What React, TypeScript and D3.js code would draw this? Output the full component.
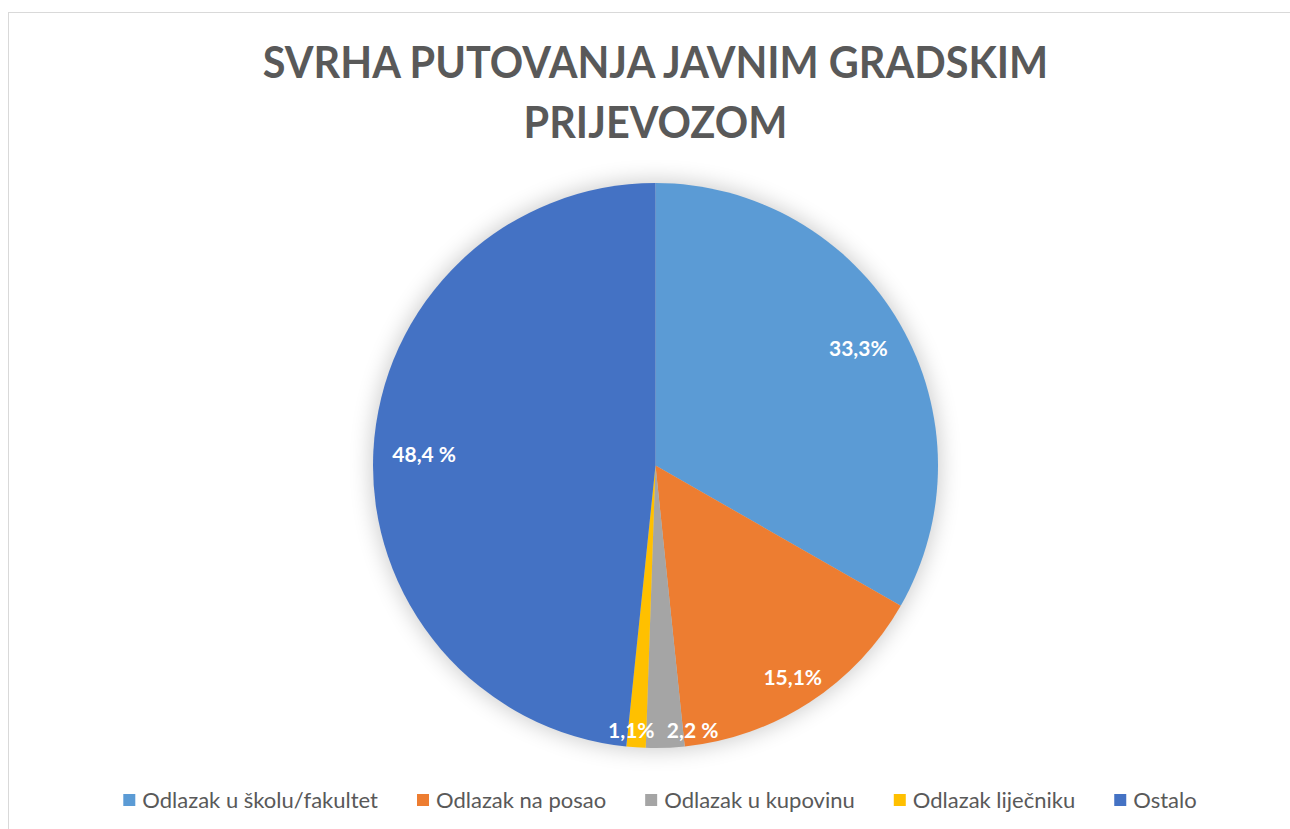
import React, { useEffect, useRef } from "react";
import * as d3 from "d3";

// ---- data ----
const categories = [
  "Odlazak u školu/fakultet",
  "Odlazak na posao",
  "Odlazak u kupovinu",
  "Odlazak liječniku",
  "Ostalo",
];
const values = [33.3, 15.1, 2.2, 1.1, 48.4];
const valueLabels = ["33,3%", "15,1%", "2,2 %", "1,1%", "48,4 %"];
const titleLines = ["SVRHA PUTOVANJA JAVNIM GRADSKIM", "PRIJEVOZOM"];

// ---- style / layout ----
const colors = ["#5B9BD5", "#ED7D31", "#A5A5A5", "#FFC000", "#4472C4"];
const W = 1290;
const H = 829;
const cx = 655.5;
const cy = 465.5;
const R = 282.5;
const labelRadiusFactor = [0.83, 0.89, 0.935, 0.935, 0.82];
const labelOffsets: [number, number][] = [
  [0, 0],
  [0, 0],
  [28, 0],
  [-6, 0],
  [0, 0],
];
const textColor = "#595959";
const font = "Lato, 'Open Sans', sans-serif";

export default function App() {
  const ref = useRef<SVGSVGElement | null>(null);

  useEffect(() => {
    const svg = d3.select(ref.current);
    svg.selectAll("*").remove();

    svg.append("rect").attr("width", W).attr("height", H).attr("fill", "#fff");
    svg
      .append("rect")
      .attr("x", 8.5)
      .attr("y", 12.5)
      .attr("width", W + 20)
      .attr("height", H + 20)
      .attr("fill", "none")
      .attr("stroke", "#d9d9d9")
      .attr("stroke-width", 1);

    // title
    titleLines.forEach((t, i) => {
      const tx = svg
        .append("text")
        .attr("text-anchor", "middle")
        .attr("font-family", font)
        .attr("font-weight", 700)
        .attr("font-size", 43)
        .attr("fill", textColor)
        .attr("x", cx)
        .attr("y", 78 + i * 60)
        .text(t);
      const w = (tx.node() as SVGTextElement).getComputedTextLength();
      tx.attr("textLength", w * 0.963).attr("lengthAdjust", "spacingAndGlyphs");
    });

    // shadow
    const defs = svg.append("defs");
    const f = defs
      .append("filter")
      .attr("id", "glow")
      .attr("x", "-30%")
      .attr("y", "-30%")
      .attr("width", "160%")
      .attr("height", "160%");
    f.append("feGaussianBlur").attr("stdDeviation", 11);

    const g = svg.append("g").attr("transform", `translate(${cx},${cy})`);
    g.append("circle")
      .attr("r", R + 2)
      .attr("fill", "#000")
      .attr("opacity", 0.2)
      .attr("filter", "url(#glow)");

    const pie = d3
      .pie<number>()
      .sort(null)
      .value((d) => d);
    const arcs = pie(values);
    const arc = d3.arc<d3.PieArcDatum<number>>().innerRadius(0).outerRadius(R);

    g.selectAll("path.slice")
      .data(arcs)
      .enter()
      .append("path")
      .attr("class", "slice")
      .attr("d", arc as any)
      .attr("fill", (_, i) => colors[i]);

    g.selectAll("text.lbl")
      .data(arcs)
      .enter()
      .append("text")
      .attr("class", "lbl")
      .attr("text-anchor", "middle")
      .attr("dominant-baseline", "central")
      .attr("font-family", font)
      .attr("font-weight", 700)
      .attr("font-size", 21)
      .attr("fill", "#fff")
      .attr("x", (d, i) => {
        const a = (d.startAngle + d.endAngle) / 2;
        return Math.sin(a) * R * labelRadiusFactor[i] + labelOffsets[i][0];
      })
      .attr("y", (d, i) => {
        const a = (d.startAngle + d.endAngle) / 2;
        return -Math.cos(a) * R * labelRadiusFactor[i] + labelOffsets[i][1];
      })
      .text((_, i) => valueLabels[i]);

    // legend
    const lg = svg.append("g");
    const sq = 12;
    const gapText = 7;
    const gapItem = 39;
    const items = categories.map((c, i) => {
      const ig = lg.append("g");
      ig.append("rect")
        .attr("width", sq)
        .attr("height", sq)
        .attr("y", 794)
        .attr("fill", colors[i]);
      const t = ig
        .append("text")
        .attr("x", sq + gapText)
        .attr("y", 807.5)
        .attr("font-family", font)
        .attr("font-size", 22)
        .attr("fill", textColor)
        .text(c);
      const w = (t.node() as SVGTextElement).getComputedTextLength();
      return { ig, w: sq + gapText + w };
    });
    const total =
      items.reduce((s, it) => s + it.w, 0) + gapItem * (items.length - 1);
    let x = 660 - total / 2;
    items.forEach((it) => {
      it.ig.attr("transform", `translate(${x},0)`);
      x += it.w + gapItem;
    });
  }, []);

  return (
    <svg
      ref={ref}
      width={W}
      height={H}
      style={{ position: "fixed", left: 0, top: 0, display: "block" }}
    />
  );
}
